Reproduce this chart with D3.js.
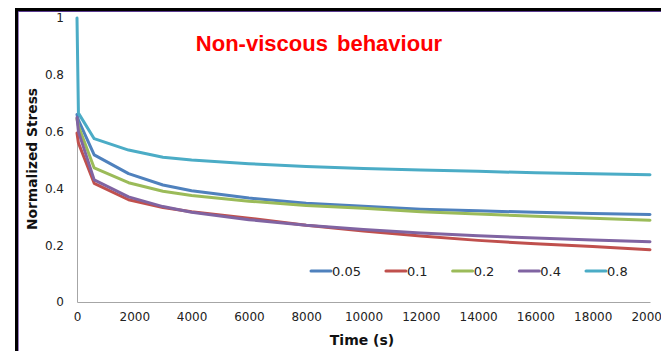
<!DOCTYPE html>
<html>
<head>
<meta charset="utf-8">
<script src="https://cdn.jsdelivr.net/npm/d3@7"></script>
<style>
  body { margin: 0; background: #fff; }
  svg { display: block; }
</style>
</head>
<body>
<div id="my_dataviz"></div>
<script>
// data
var times = [0, 50, 600, 1800, 3000, 4000, 6000, 8000, 10000, 12000, 14000, 16000, 18000, 20000];
var s005 = [0.66, 0.64, 0.518, 0.452, 0.412, 0.392, 0.366, 0.348, 0.337, 0.327, 0.321, 0.316, 0.312, 0.308];
var s01  = [0.595, 0.56, 0.418, 0.36, 0.333, 0.318, 0.295, 0.27, 0.25, 0.232, 0.217, 0.205, 0.195, 0.184];
var s02  = [0.645, 0.62, 0.472, 0.42, 0.39, 0.375, 0.355, 0.34, 0.33, 0.318, 0.31, 0.302, 0.295, 0.288];
var s04  = [0.65, 0.6, 0.43, 0.37, 0.336, 0.316, 0.29, 0.27, 0.255, 0.243, 0.233, 0.225, 0.218, 0.212];
var s08  = [1.0, 0.665, 0.575, 0.535, 0.51, 0.5, 0.487, 0.477, 0.47, 0.465, 0.46, 0.455, 0.452, 0.448];
var seriesNames = ["0.05", "0.1", "0.2", "0.4", "0.8"];
var seriesValues = [s005, s01, s02, s04, s08];
var xTicks = [0, 2000, 4000, 6000, 8000, 10000, 12000, 14000, 16000, 18000, 20000];
var yTicks = [0, 0.2, 0.4, 0.6, 0.8, 1];

var W = 661, H = 351;
var margin = {top: 18, right: 11, bottom: 49, left: 77},
    width = W - margin.left - margin.right,
    height = H - margin.top - margin.bottom;

var color = d3.scaleOrdinal()
  .domain(seriesNames)
  .range(["#4F81BD", "#C0504D", "#9BBB59", "#8064A2", "#4BACC6"]);

var root = d3.select("#my_dataviz")
  .append("svg")
    .attr("width", W)
    .attr("height", H);

// frame around the picture
root.append("line").attr("x1", 16.5).attr("x2", 16.5).attr("y1", 8).attr("y2", H)
  .style("stroke", "#000").style("stroke-width", 3);
root.append("line").attr("x1", 15).attr("x2", W).attr("y1", 9.5).attr("y2", 9.5)
  .style("stroke", "#000").style("stroke-width", 3);
root.append("line").attr("x1", 18.5).attr("x2", 18.5).attr("y1", 11).attr("y2", H)
  .style("stroke", "#9a7fc0").style("stroke-width", 1);
root.append("line").attr("x1", 18).attr("x2", W).attr("y1", 11.5).attr("y2", 11.5)
  .style("stroke", "#5a3a90").style("stroke-width", 1);

var svg = root.append("g")
  .attr("transform", "translate(" + margin.left + "," + margin.top + ")");

var x = d3.scaleLinear().domain([0, 20000]).range([0, width]);
var y = d3.scaleLinear().domain([0, 1]).range([height, 0]);

// X axis
var xAxis = svg.append("g")
  .attr("transform", "translate(0," + height + ")")
  .call(d3.axisBottom(x).tickValues(xTicks).tickSize(0).tickPadding(10).tickFormat(d3.format("d")));
xAxis.select(".domain").style("stroke", "#a6a6a6");
xAxis.selectAll("text")
  .style("font-family", "DejaVu Sans")
  .style("font-size", "12px")
  .style("fill", "#222");

// Y axis
var yAxis = svg.append("g")
  .call(d3.axisLeft(y).tickValues(yTicks).tickSize(0).tickPadding(13).tickFormat(function(d){ return d === 0 || d === 1 ? d : d3.format(".1f")(d); }));
yAxis.select(".domain").style("stroke", "#a6a6a6");
yAxis.selectAll("text")
  .style("font-family", "DejaVu Sans")
  .style("font-size", "12px")
  .style("fill", "#222");

// axis titles
svg.append("text")
  .attr("text-anchor", "middle")
  .attr("x", 362 - margin.left)
  .attr("y", 345 - margin.top)
  .text("Time (s)")
  .style("font-family", "DejaVu Sans")
  .style("font-weight", "bold")
  .style("font-size", "14px")
  .style("fill", "#111");

svg.append("text")
  .attr("text-anchor", "middle")
  .attr("transform", "translate(" + (37 - margin.left) + "," + (159 - margin.top) + ") rotate(-90)")
  .text("Normalized Stress")
  .style("font-family", "DejaVu Sans")
  .style("font-weight", "bold")
  .style("font-size", "13.8px")
  .style("fill", "#111");

// title
root.append("text")
  .attr("text-anchor", "middle")
  .attr("x", 319)
  .attr("y", 51)
  .text("Non-viscous behaviour")
  .style("font-family", "Liberation Sans")
  .style("font-weight", "bold")
  .style("font-size", "22px")
  .style("word-spacing", "3px")
  .style("fill", "#ff0000");

// lines
var line = d3.line()
  .x(function(d, i){ return x(times[i]); })
  .y(function(d){ return y(d); });

seriesValues.forEach(function(vals, k){
  svg.append("path")
    .datum(vals)
    .attr("d", line)
    .style("fill", "none")
    .style("stroke", color(seriesNames[k]))
    .style("stroke-width", 3)
    .style("stroke-linejoin", "round")
    .style("stroke-linecap", "round");
});

// legend
var lx = 311, ly = 271;
seriesNames.forEach(function(name){
  root.append("line")
    .attr("x1", lx).attr("x2", lx + 20)
    .attr("y1", ly).attr("y2", ly)
    .style("stroke", color(name))
    .style("stroke-width", 3)
    .style("stroke-linecap", "round");
  var t = root.append("text")
    .attr("x", lx + 21)
    .attr("y", ly + 5)
    .text(name)
    .style("font-family", "DejaVu Sans")
    .style("font-size", "13px")
    .style("fill", "#222");
  lx += 21 + t.node().getComputedTextLength() + 25;
});
</script>
</body>
</html>
